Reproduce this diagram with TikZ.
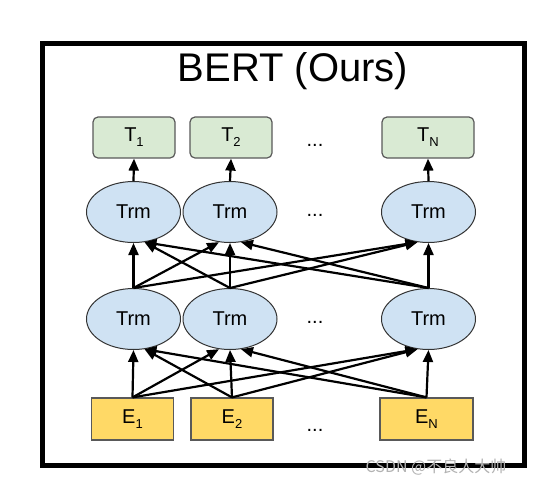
\documentclass[tikz,border=0pt]{standalone}
\usepackage{fontspec}
\setmainfont{Liberation Sans}
\newfontfamily\cjkfont{Noto Sans CJK SC}
\usetikzlibrary{arrows.meta,shapes.geometric}
\definecolor{tgreen}{HTML}{D9EAD3}
\definecolor{tblue}{HTML}{CFE2F3}
\definecolor{eyellow}{HTML}{FFD966}
\definecolor{bordergray}{HTML}{595959}
\newcommand{\lbl}[2]{#1\raisebox{-5pt}{\fontsize{13}{13}\selectfont #2}}
\begin{document}
\begin{tikzpicture}[x=1pt,y=-1pt,
  tbox/.style={draw=bordergray,fill=tgreen,rounded corners=5pt,line width=1.2pt,
    minimum width=82pt,minimum height=41pt,inner sep=0pt,font=\fontsize{20}{20}\selectfont},
  ebox/.style={draw=bordergray,fill=eyellow,line width=1.2pt,
    minimum width=82pt,minimum height=42pt,inner sep=0pt,font=\fontsize{20}{20}\selectfont},
  trm/.style={ellipse,draw=black!80,fill=tblue,line width=1pt,
    minimum width=94pt,minimum height=61pt,inner sep=0pt,font=\fontsize{20}{20}\selectfont},
  dotsnode/.style={inner sep=0pt,font=\fontsize{20}{20}\selectfont},
  arr/.style={line width=2.2pt,-{Triangle[length=12pt,width=10pt]}}
]
\useasboundingbox (0,0) rectangle (538,488);
% frame
\draw[line width=5pt] (42.5,43.5) rectangle (524.5,465.5);
\node[inner sep=0pt,font=\fontsize{40}{40}\selectfont] (title) at (293,71) {BERT (Ours)};
% T boxes
\node[tbox] (t1) at (134,137.5) {\lbl{T}{1}};
\node[tbox] (t2) at (231,137.5) {\lbl{T}{2}};
\node[tbox,minimum width=92pt] (tn) at (428,137.5) {\lbl{T}{N}};
\node[dotsnode] (d1) at (315,145) {...};
% upper Trm
\node[trm] (u1) at (133.5,212) {Trm};
\node[trm] (u2) at (230,212) {Trm};
\node[trm] (un) at (428.5,212) {Trm};
\node[dotsnode] (d2) at (315,215) {...};
% lower Trm
\node[trm] (l1) at (133.5,319) {Trm};
\node[trm] (l2) at (230,319) {Trm};
\node[trm] (ln) at (428.5,319) {Trm};
\node[dotsnode] (d3) at (315,322) {...};
% E boxes
\node[ebox] (e1) at (132.5,419) {\lbl{E}{1}};
\node[ebox] (e2) at (232,419) {\lbl{E}{2}};
\node[ebox,minimum width=93pt] (en) at (426.5,419) {\lbl{E}{N}};
\node[dotsnode] (d4) at (315,430) {...};
% arrows Trm -> T
\draw[arr] (u1.north) -- (t1.south);
\draw[arr] (u2.north) -- (t2.south);
\draw[arr] (un.north) -- (tn.south);
% lower -> upper
\draw[arr] (l1.north) -- (u1.south);
\draw[arr] (l1.north) -- (u2.250);
\draw[arr] (l1.north) -- (un.250);
\draw[arr] (l2.north) -- (u1.290);
\draw[arr] (l2.north) -- (u2.south);
\draw[arr] (l2.north) -- (un.250);
\draw[arr] (ln.north) -- (u1.290);
\draw[arr] (ln.north) -- (u2.290);
\draw[arr] (ln.north) -- (un.south);
% E -> lower
\draw[arr] (e1.north) -- (l1.south);
\draw[arr] (e1.north) -- (l2.250);
\draw[arr] (e1.north) -- (ln.250);
\draw[arr] (e2.north) -- (l1.290);
\draw[arr] (e2.north) -- (l2.south);
\draw[arr] (e2.north) -- (ln.250);
\draw[arr] (en.north) -- (l1.290);
\draw[arr] (en.north) -- (l2.290);
\draw[arr] (en.north) -- (ln.south);
% watermark
\node[inner sep=0pt,text=gray!60,font=\cjkfont\fontsize{16}{16}\selectfont] (wm) at (436,467) {CSDN @不良人大帅};
\end{tikzpicture}
\end{document}
